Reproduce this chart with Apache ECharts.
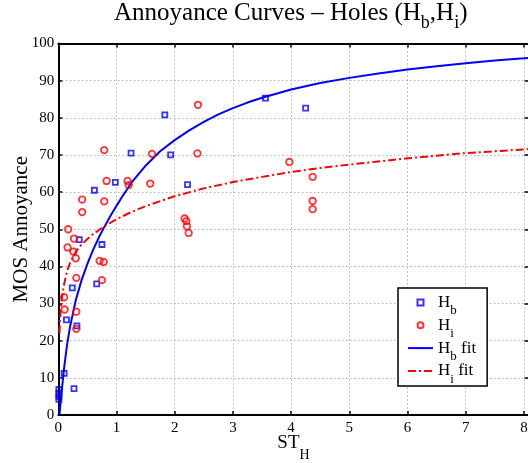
<!DOCTYPE html>
<html><head><meta charset="utf-8">
<script src="https://cdn.jsdelivr.net/npm/echarts@6/dist/echarts.min.js"></script>
<style>html,body{margin:0;padding:0;background:#fff}#c{width:528px;height:463px}</style>
</head><body><div id="c"></div>
<script>
// Hb (blue squares)
const hbX = [0.01, 0.01, 0.01, 0.01, 0.10, 0.27, 0.14, 0.32, 0.24, 0.66, 0.36, 0.75, 0.62, 0.98, 1.25, 1.93, 2.22, 1.83, 3.56, 4.25];
const hbY = [6.9, 5.9, 5.0, 4.2, 11.2, 7.1, 25.6, 24.0, 34.2, 35.3, 47.2, 45.9, 60.5, 62.6, 70.5, 70.0, 62.0, 80.8, 85.3, 82.6];
// Hi (red circles)
const hiX = [0.10, 0.11, 0.31, 0.31, 0.31, 0.30, 0.26, 0.16, 0.27, 0.17, 0.41, 0.41, 0.71, 0.78, 0.75, 0.79, 0.79, 0.83, 1.19, 1.21, 1.58, 1.61, 2.17, 2.20, 2.21, 2.24, 2.39, 2.40, 3.97, 4.37, 4.37, 4.37];
const hiY = [31.7, 28.4, 27.8, 23.2, 36.9, 42.2, 44.0, 45.1, 47.5, 50.0, 54.6, 58.0, 41.5, 41.2, 36.3, 57.5, 71.3, 63.0, 63.0, 61.9, 62.3, 70.3, 52.9, 52.2, 50.8, 49.0, 70.4, 83.5, 68.1, 64.1, 57.6, 55.4];
// Hb fit
const hbFitX = [0.02, 0.03, 0.05, 0.075, 0.1, 0.15, 0.2, 0.3, 0.4, 0.5, 0.6, 0.7, 0.8, 0.9, 1.0, 1.1, 1.25, 1.5, 1.75, 2, 2.25, 2.5, 2.75, 3, 3.25, 3.5, 4, 4.5, 5, 5.5, 6, 6.5, 7, 7.5, 8, 8.08];
const hbFitY = [0, 1.8, 5, 9, 12.7, 18.8, 23.6, 30.9, 36.3, 40.7, 44.5, 47.9, 50.9, 53.7, 56.3, 58.8, 62.4, 67.1, 71.0, 74.0, 76.6, 78.9, 80.9, 82.6, 84.1, 85.4, 87.6, 89.35, 90.75, 91.95, 93.0, 93.9, 94.7, 95.4, 96.0, 96.1];
// Hi fit
const hiFitX = [0.02, 0.03, 0.05, 0.075, 0.1, 0.15, 0.2, 0.3, 0.4, 0.5, 0.6, 0.8, 1, 1.25, 1.5, 2, 2.5, 3, 3.5, 4, 4.5, 5, 6, 7, 8, 8.08];
const hiFitY = [22, 25.5, 30, 33, 35.2, 38.7, 40.9, 43.9, 45.9, 47.4, 48.7, 50.9, 52.7, 54.6, 56.2, 58.9, 61.0, 62.7, 64.1, 65.4, 66.5, 67.4, 69.1, 70.5, 71.5, 71.6];
const xTicks = [0, 1, 2, 3, 4, 5, 6, 7, 8];

const FONT = '"Liberation Serif", "Times New Roman", serif';
const zip = (xs, ys) => xs.map((x, i) => [x, ys[i]]);
const BLUE = '#0000ff', RED = '#ff0000';

const chart = echarts.init(document.getElementById('c'), null, {renderer: 'canvas'});
const gridLine = {show: true, lineStyle: {color: '#8a8a8a', width: 1, type: [1, 3]}};
const blackLine = {show: true, onZero: false, lineStyle: {color: '#000', width: 2}};
const tickIn = {show: true, inside: true, length: 4, lineStyle: {color: '#000', width: 1.5}};
const labelStyle = {color: '#000', fontFamily: FONT, fontSize: 15};

const legendNames = {
  'Hb': '{m|H}{s|b}',
  'Hi': '{m|H}{s|i}',
  'Hb fit': '{m|H}{s|b}{m| fit}',
  'Hi fit': '{m|H}{s|i}{m| fit}'
};

const option = {
  animation: false,
  backgroundColor: '#fff',
  title: {
    text: '{t|Annoyance Curves – Holes (H}{s|b}{t|,H}{s|i}{t|)}',
    left: 114,
    top: -1.5,
    padding: 0,
    textStyle: {
      fontWeight: 'normal',
      rich: {
        t: {fontFamily: FONT, fontSize: 25, fontWeight: 'normal', lineHeight: 30, color: '#000'},
        s: {fontFamily: FONT, fontSize: 18, fontWeight: 'normal', lineHeight: 30, height: 10, verticalAlign: 'bottom', color: '#000'}
      }
    }
  },
  grid: {left: 58.3, top: 43.5, width: 470.3, height: 371.5, outerBoundsMode: 'none', containLabel: false},
  xAxis: [{
    type: 'value', min: 0, max: 8.08, interval: 1, position: 'bottom',
    axisLine: blackLine, axisTick: tickIn,
    axisLabel: Object.assign({margin: 6, formatter: v => xTicks.indexOf(v) >= 0 ? String(v) : ''}, labelStyle),
    splitLine: gridLine,
    name: '{m|ST}{s|H}', nameLocation: 'middle', nameGap: 15, nameMoveOverlap: false,
    nameTextStyle: {
      rich: {
        m: {fontFamily: FONT, fontSize: 19, lineHeight: 26, color: '#000'},
        s: {fontFamily: FONT, fontSize: 14, lineHeight: 26, height: 2, verticalAlign: 'bottom', color: '#000'}
      }
    }
  }, {
    type: 'value', min: 0, max: 8.08, interval: 1, position: 'top',
    axisLine: blackLine, axisTick: tickIn, axisLabel: {show: false}, splitLine: {show: false}
  }],
  yAxis: [{
    type: 'value', min: 0, max: 100, interval: 10, position: 'left',
    axisLine: blackLine, axisTick: tickIn,
    axisLabel: Object.assign({margin: 4}, labelStyle),
    splitLine: gridLine,
    name: 'MOS Annoyance', nameLocation: 'middle', nameGap: 26, nameMoveOverlap: false,
    nameTextStyle: {fontFamily: FONT, fontSize: 21, color: '#000'}
  }, {
    type: 'value', min: 0, max: 100, interval: 10, position: 'right',
    axisLine: blackLine, axisTick: tickIn, axisLabel: {show: false}, splitLine: {show: false}
  }],
  legend: {
    orient: 'vertical', left: 398, top: 288,
    padding: [6, 11, 0, 9],
    itemGap: -0.7, itemWidth: 25, itemHeight: 6,
    symbolKeepAspect: true,
    backgroundColor: '#fff', borderColor: '#000', borderWidth: 1.5,
    data: [
      {name: 'Hb', icon: 'path://M0 0h10v10h-10z'},
      {name: 'Hi', icon: 'circle'},
      {name: 'Hb fit', itemStyle: {opacity: 0}},
      {name: 'Hi fit', itemStyle: {opacity: 0}}
    ],
    formatter: n => legendNames[n],
    textStyle: {
      fontFamily: FONT, color: '#000',
      rich: {
        m: {fontFamily: FONT, fontSize: 17, lineHeight: 18, color: '#000'},
        s: {fontFamily: FONT, fontSize: 13, lineHeight: 18, height: 1, verticalAlign: 'bottom', color: '#000'}
      }
    }
  },
  series: [
    {name: 'Hb fit', type: 'line', data: zip(hbFitX, hbFitY), showSymbol: false, symbol: 'none',
     smooth: false, lineStyle: {color: BLUE, width: 2}, itemStyle: {color: BLUE}, z: 2},
    {name: 'Hi fit', type: 'line', data: zip(hiFitX, hiFitY), showSymbol: false, symbol: 'none',
     smooth: false, lineStyle: {color: RED, width: 2, type: [8, 3, 2, 3]}, itemStyle: {color: RED}, z: 2},
    {name: 'Hb', type: 'scatter', data: zip(hbX, hbY), symbol: 'rect', symbolSize: 5,
     itemStyle: {color: 'rgba(255,255,255,0)', borderColor: BLUE, borderWidth: 1.8}, z: 3},
    {name: 'Hi', type: 'scatter', data: zip(hiX, hiY), symbol: 'circle', symbolSize: 6.5,
     itemStyle: {color: 'rgba(255,255,255,0)', borderColor: RED, borderWidth: 1.8}, z: 3}
  ]
};
chart.setOption(option);
</script>
</body></html>
